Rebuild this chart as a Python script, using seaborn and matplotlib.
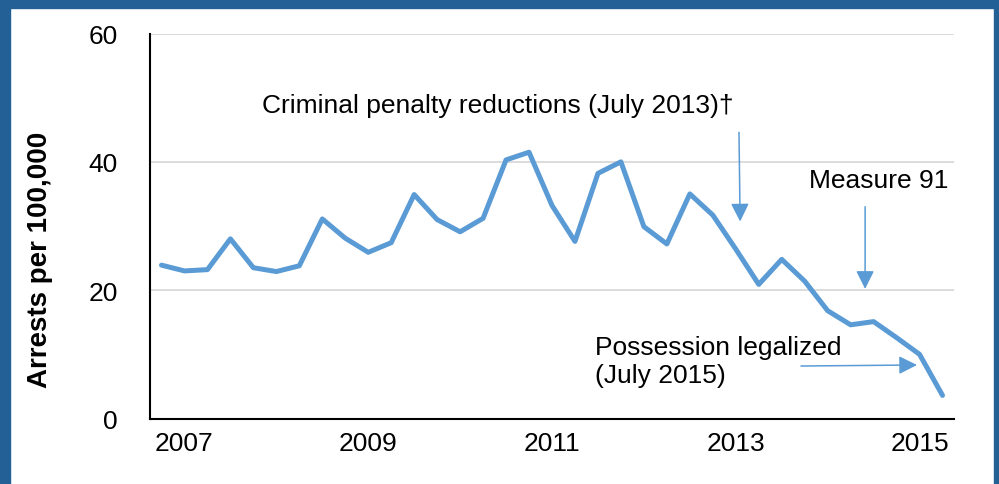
import matplotlib
matplotlib.use("Agg")
import matplotlib.pyplot as plt
from matplotlib.patches import Rectangle
import numpy as np
import pandas as pd
import seaborn as sns

# Quarterly marijuana arrest rate, 2006 Q4 through 2015 Q2
quarters = [
    "2006 Q4",
    "2007 Q1", "2007 Q2", "2007 Q3", "2007 Q4",
    "2008 Q1", "2008 Q2", "2008 Q3", "2008 Q4",
    "2009 Q1", "2009 Q2", "2009 Q3", "2009 Q4",
    "2010 Q1", "2010 Q2", "2010 Q3", "2010 Q4",
    "2011 Q1", "2011 Q2", "2011 Q3", "2011 Q4",
    "2012 Q1", "2012 Q2", "2012 Q3", "2012 Q4",
    "2013 Q1", "2013 Q2", "2013 Q3", "2013 Q4",
    "2014 Q1", "2014 Q2", "2014 Q3", "2014 Q4",
    "2015 Q1", "2015 Q2",
]
arrests = [
    23.9, 23.0, 23.2, 28.0, 23.5, 22.9, 23.8, 31.1, 28.1, 25.9,
    27.4, 34.9, 31.0, 29.1, 31.2, 40.3, 41.5, 33.2, 27.6, 38.2,
    40.0, 29.9, 27.2, 35.0, 31.7, 26.4, 20.9, 24.8, 21.4, 16.8,
    14.6, 15.1, 12.6, 10.0, 3.6,
]
year_labels = ["2007", "2009", "2011", "2013", "2015"]
year_label_quarters = ["2007 Q1", "2009 Q1", "2011 Q1", "2013 Q1", "2015 Q1"]
y_ticks = [0, 20, 40, 60]

# Policy events: label, label anchor (left, centre), arrow start, arrow tip
# all in (quarter position, arrests per 100,000)
events = [
    ("Criminal penalty reductions (July 2013)\u2020", (4.38, 48.85), (25.14, 44.6), (25.19, 30.7)),
    ("Measure 91", (28.19, 37.2), (30.63, 33.0), (30.63, 20.2)),
    ("Possession legalized\n(July 2015)", (18.87, 9.0), (27.84, 8.18), (32.89, 8.34)),
]

df = pd.DataFrame({"pos": np.arange(len(quarters)), "quarter": quarters, "rate": arrests})

sns.set_theme(style="white")
plt.rcParams["font.family"] = ["Liberation Sans", "DejaVu Sans"]

line_color = "#5B9BD5"
fig = plt.figure(figsize=(9.99, 4.85), dpi=100)
ax = fig.add_axes([150 / 999, 65.5 / 485, 804 / 999, 385 / 485])

sns.lineplot(data=df, x="pos", y="rate", ax=ax, color=line_color,
             linewidth=3.6, solid_capstyle="round", zorder=3)

ax.set_xlim(-0.5, len(quarters) - 0.5)
ax.set_ylim(0, 60)
ax.set_yticks(y_ticks)
ax.set_yticklabels([str(v) for v in y_ticks], fontsize=19)
ax.set_xticks([quarters.index(q) for q in year_label_quarters])
ax.set_xticklabels(year_labels, fontsize=19)
ax.tick_params(axis="both", length=0, colors="black")
ax.tick_params(axis="y", pad=23)
ax.tick_params(axis="x", pad=9)
ax.set_xlabel("")
ax.set_ylabel("")
fig.text(40 / 999, 1 - 260 / 485, "Arrests per 100,000", rotation=90,
         fontsize=20, fontweight="bold", ha="center", va="center", color="black")

ax.yaxis.grid(True, color="#D9D9D9", linewidth=1.3)
ax.set_axisbelow(True)
for side in ("top", "right"):
    ax.spines[side].set_visible(False)
for side in ("left", "bottom"):
    ax.spines[side].set_color("black")
    ax.spines[side].set_linewidth(1.5)
    ax.spines[side].set_zorder(4)

arrow_style = dict(arrowstyle="-|>,head_length=1.1,head_width=0.55",
                   color=line_color, linewidth=1.1, shrinkA=0, shrinkB=0,
                   mutation_scale=10)

for text, tpos, start, tip in events:
    ax.text(tpos[0], tpos[1], text, fontsize=19, ha="left", va="center",
            linespacing=1.2, color="black")
    ax.annotate("", xy=tip, xytext=start, arrowprops=arrow_style)

# dark blue frame around the chart
frame_color = "#236095"
fig.patches.append(Rectangle((0, 0), 10 / 999, 1, transform=fig.transFigure,
                             color=frame_color, zorder=0))
fig.patches.append(Rectangle((0, 1 - 9 / 485), 1, 9 / 485, transform=fig.transFigure,
                             color=frame_color, zorder=0))
fig.patches.append(Rectangle((1 - 5 / 999, 0), 5 / 999, 1, transform=fig.transFigure,
                             color=frame_color, zorder=0))

fig.savefig("out.png", dpi=100, facecolor="white")
